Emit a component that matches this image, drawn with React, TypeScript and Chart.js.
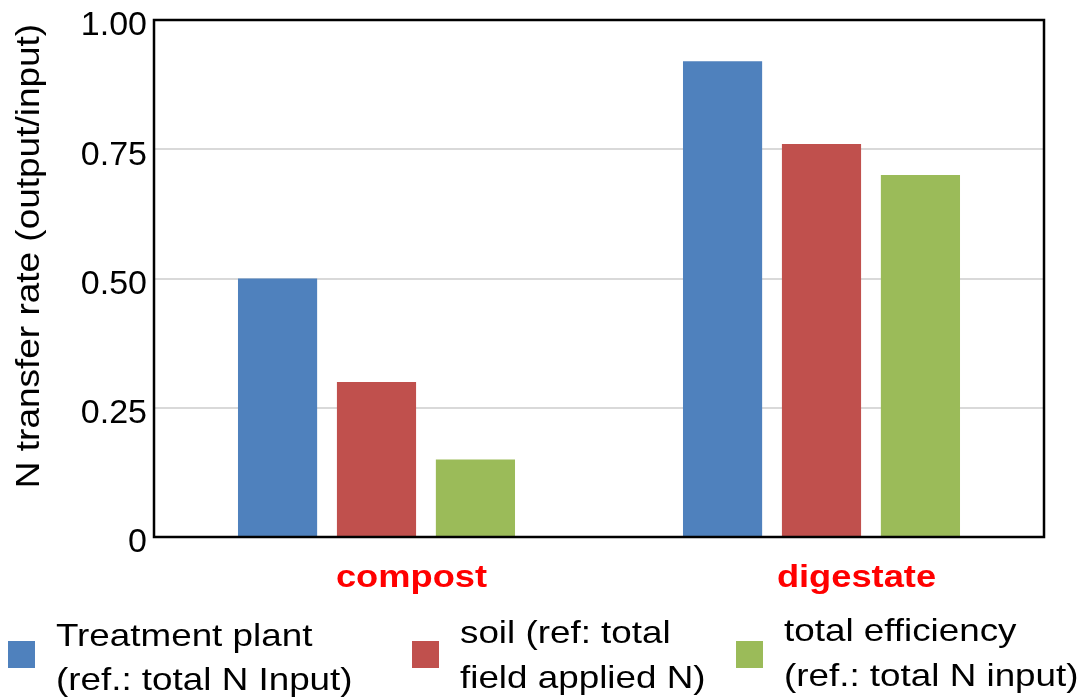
import React, { useEffect, useRef } from "react";
import { Chart, registerables } from "chart.js";

Chart.register(...registerables);

const categories = ["compost", "digestate"];
const seriesNames = [
  ["Treatment plant", "(ref.: total N Input)"],
  ["soil (ref: total", "field applied N)"],
  ["total efficiency", "(ref.: total N input)"],
];
const treatmentPlant = [0.5, 0.92];
const soil = [0.3, 0.76];
const totalEfficiency = [0.15, 0.7];
const yTickLabels = ["0", "0.25", "0.50", "0.75", "1.00"];
const yTitle = "N transfer rate (output/input)";
const colors = ["#4F81BD", "#C0504D", "#9BBB59"];

const FONT = '"Liberation Sans", Arial, sans-serif';

const decorPlugin = {
  id: "decor",
  afterDatasetsDraw(chart: any) {
    const { ctx, chartArea } = chart;
    ctx.save();
    ctx.strokeStyle = "#000";
    ctx.lineWidth = 2.5;
    ctx.strokeRect(
      chartArea.left,
      chartArea.top,
      chartArea.right - chartArea.left,
      chartArea.bottom - chartArea.top
    );
    ctx.restore();
  },
  afterDraw(chart: any) {
    const { ctx, chartArea } = chart;
    const xScale = chart.scales.x;
    // category labels
    ctx.save();
    ctx.fillStyle = "#FF0000";
    ctx.font = `bold 31px ${FONT}`;
    ctx.textAlign = "center";
    ctx.textBaseline = "alphabetic";
    categories.forEach((c, i) => {
      const x = xScale.getPixelForValue(i) + 35;
      ctx.save();
      ctx.translate(x, chartArea.bottom + 50);
      ctx.scale(1.17, 1);
      ctx.fillText(c, 0, 0);
      ctx.restore();
    });
    ctx.restore();

    // y title
    ctx.save();
    ctx.fillStyle = "#000";
    ctx.font = `33px ${FONT}`;
    ctx.textAlign = "center";
    ctx.textBaseline = "middle";
    ctx.translate(30, 256);
    ctx.rotate(-Math.PI / 2);
    ctx.scale(1.12, 1);
    ctx.fillText(yTitle, 0, 0);
    ctx.restore();

    // legend
    const itemX = [8, 412, 736];
    const textGap = 21;
    const baselines = [
      [646, 690],
      [643, 688],
      [641, 686],
    ];
    ctx.save();
    chart.data.datasets.forEach((ds: any, i: number) => {
      ctx.fillStyle = ds.backgroundColor;
      ctx.fillRect(itemX[i], 641, 27, 27);
      ctx.fillStyle = "#000";
      ctx.font = `32px ${FONT}`;
      ctx.textAlign = "left";
      ctx.textBaseline = "alphabetic";
      seriesNames[i].forEach((line, j) => {
        ctx.save();
        ctx.translate(itemX[i] + 27 + textGap, baselines[i][j]);
        ctx.scale(1.15, 1);
        ctx.fillText(line, 0, 0);
        ctx.restore();
      });
    });
    ctx.restore();
  },
};

export default function App() {
  const ref = useRef<HTMLCanvasElement | null>(null);
  useEffect(() => {
    if (!ref.current) return;
    const chart = new Chart(ref.current, {
      type: "bar",
      data: {
        labels: categories,
        datasets: [
          { label: seriesNames[0].join(" "), data: treatmentPlant, backgroundColor: colors[0] },
          { label: seriesNames[1].join(" "), data: soil, backgroundColor: colors[1] },
          { label: seriesNames[2].join(" "), data: totalEfficiency, backgroundColor: colors[2] },
        ],
      },
      options: {
        animation: false,
        responsive: true,
        maintainAspectRatio: false,
        layout: { padding: { top: 20, right: 47, bottom: 0, left: 0 } },
        datasets: {
          bar: { barPercentage: 0.8, categoryPercentage: 0.667 },
        },
        plugins: {
          legend: { display: false },
          tooltip: { enabled: false },
        },
        scales: {
          x: {
            grid: { display: false, drawTicks: false },
            border: { display: false },
            ticks: { display: false },
            afterFit: (s: any) => {
              s.height = 160;
              s.paddingLeft = 0;
              s.paddingRight = 0;
            },
          },
          y: {
            min: 0,
            max: 1,
            grid: { color: "#d9d9d9", lineWidth: 2, drawTicks: false },
            border: { display: false },
            ticks: {
              stepSize: 0.25,
              padding: 7,
              labelOffset: 6,
              color: "#000",
              font: { family: FONT, size: 34 },
              callback: (_v: any, i: number) => yTickLabels[i],
            },
            afterFit: (s: any) => {
              s.width = 154;
              s.paddingTop = 0;
              s.paddingBottom = 0;
            },
          },
        },
      },
      plugins: [decorPlugin],
    });
    return () => chart.destroy();
  }, []);
  return (
    <div style={{ position: "fixed", left: 0, top: 0, width: 1091, height: 697, background: "#fff" }}>
      <canvas ref={ref} />
    </div>
  );
}
